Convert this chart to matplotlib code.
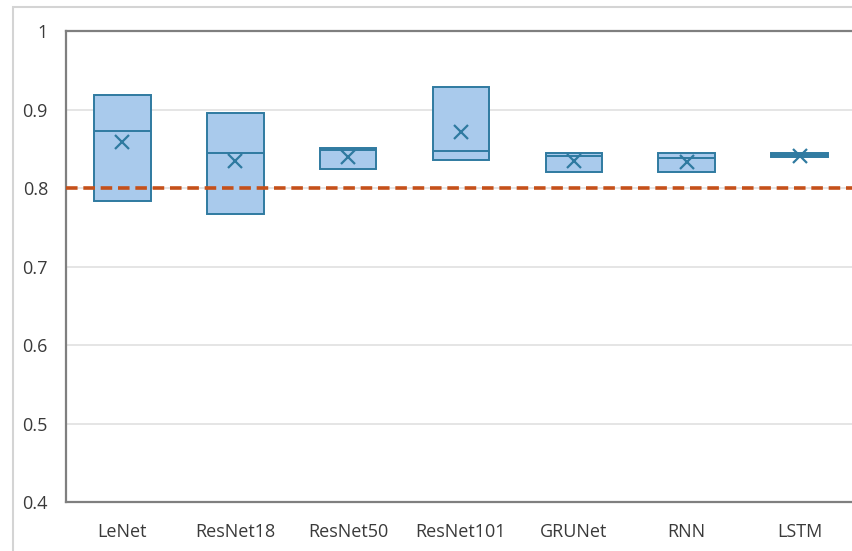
import matplotlib
matplotlib.use("Agg")
import matplotlib.pyplot as plt
from matplotlib.patches import Rectangle

# per-model accuracy summary (quartiles, median, mean)
models = ["LeNet", "ResNet18", "ResNet50", "ResNet101", "GRUNet", "RNN", "LSTM"]
q1 = [0.783, 0.767, 0.824, 0.836, 0.820, 0.820, 0.839]
q3 = [0.918, 0.895, 0.851, 0.929, 0.845, 0.845, 0.845]
medians = [0.873, 0.845, 0.848, 0.847, 0.841, 0.838, 0.842]
means = [0.859, 0.835, 0.840, 0.871, 0.834, 0.833, 0.841]
threshold = 0.8
yticks = [0.4, 0.5, 0.6, 0.7, 0.8, 0.9, 1.0]

edge = "#2f7aa0"
fill = "#a9caec"

plt.rcParams["font.family"] = ["Open Sans", "DejaVu Sans"]

fig = plt.figure(figsize=(8.53, 5.51), dpi=100)
fig.patches.append(Rectangle((13 / 853, -0.1), 1.0, 1.1 - 7 / 551, transform=fig.transFigure,
                             fill=False, edgecolor="#d4d4d4", linewidth=1.5))
ax = fig.add_axes([66 / 853, 49 / 551, 790 / 853, 471 / 551])

stats = []
for name, lo, hi, med, mu in zip(models, q1, q3, medians, means):
    stats.append({"label": name, "q1": lo, "q3": hi, "med": med, "mean": mu,
                  "whislo": lo, "whishi": hi, "fliers": []})

ax.bxp(stats, positions=range(len(models)), widths=0.5, patch_artist=True,
       showmeans=True, showcaps=False,
       boxprops=dict(facecolor=fill, edgecolor=edge, linewidth=1.4),
       medianprops=dict(color=edge, linewidth=1.4),
       whiskerprops=dict(color=edge, linewidth=1.4),
       meanprops=dict(marker="x", markeredgecolor=edge, markersize=10, markeredgewidth=1.6),
       zorder=3)

ax.axhline(threshold, color="#c5501a", linestyle=(0, (3.2, 1.6)), linewidth=2.6, zorder=4)

ax.set_xlim(-0.5, len(models) - 0.5)
ax.set_ylim(0.4, 1.0)
ax.set_yticks(yticks)
ax.set_yticklabels([f"{v:g}" for v in yticks])
ax.set_xticks(range(len(models)))
ax.set_xticklabels(models)
ax.yaxis.grid(True, color="#e3e3e3", linewidth=1.3, zorder=0)
ax.set_axisbelow(True)
ax.tick_params(length=0, labelsize=13, colors="#3a3a3a")
ax.tick_params(axis="x", pad=15)
ax.tick_params(axis="y", pad=13)
for side in ("left", "top", "bottom"):
    ax.spines[side].set_color("#7f7f7f")
    ax.spines[side].set_linewidth(1.6)
ax.spines["right"].set_visible(False)

fig.savefig("out.png", dpi=100)
